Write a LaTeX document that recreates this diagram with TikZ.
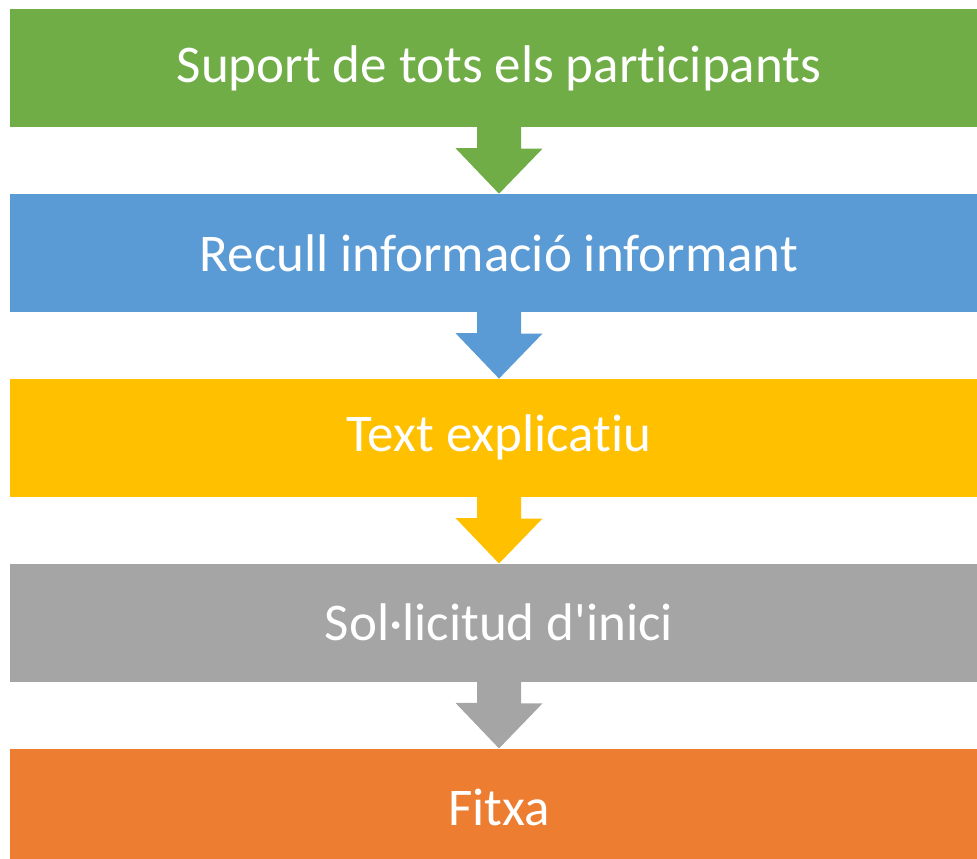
\documentclass[tikz,border=0pt]{standalone}
\usepackage{fontspec}
\setmainfont[Ligatures={NoCommon}]{Carlito}
\usepackage{tikz}
\usetikzlibrary{positioning}
\definecolor{stepGreen}{HTML}{70AD47}
\definecolor{stepBlue}{HTML}{5B9BD5}
\definecolor{stepGold}{HTML}{FFC000}
\definecolor{stepGray}{HTML}{A5A5A5}
\definecolor{stepOrange}{HTML}{ED7D31}
\tikzstyle{flow} = [x = 1pt, y = -1pt]
\tikzstyle{stepBox} = [minimum width = 978pt, minimum height = 118pt, inner sep = 0pt, text = white, font = \fontsize{53}{60}\selectfont]
\newcommand{\flowArrow}[3]{\fill [#3] ([xshift=-22pt]#1.south) -- ++(0,21) -- ++(-21.5,0) -- (#2.north) -- ++(43.5,-45) -- ++(-21.5,0) -- ([xshift=22pt]#1.south) -- cycle;}
\begin{document}
\begin{tikzpicture}[flow]
        \useasboundingbox (0,0) rectangle (977,859);
        \node [stepBox, fill=stepGreen] (suport) at (499,68) {Suport de tots els participants};
        \node [stepBox, fill=stepBlue, below=66.5pt of suport] (recull) {Recull informació informant};
        \node [stepBox, fill=stepGold, below=66.5pt of recull] (text) {Text explicatiu};
        \node [stepBox, fill=stepGray, below=66.5pt of text] (sollicitud) {Sol·licitud d\textquotesingle inici};
        \node [stepBox, fill=stepOrange, below=66.5pt of sollicitud] (fitxa) {Fitxa};
        \flowArrow{suport}{recull}{stepGreen}
        \flowArrow{recull}{text}{stepBlue}
        \flowArrow{text}{sollicitud}{stepGold}
        \flowArrow{sollicitud}{fitxa}{stepGray}
\end{tikzpicture}
\end{document}
